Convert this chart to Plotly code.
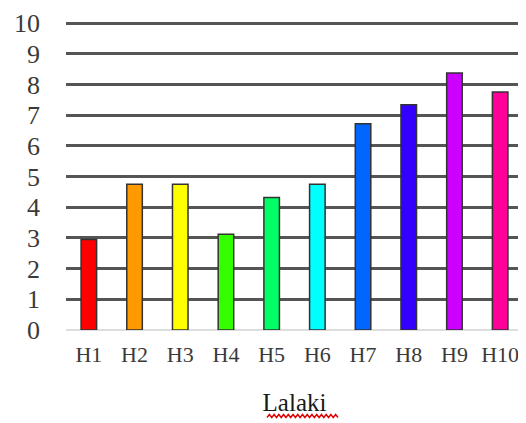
import plotly.graph_objects as go

# Data
categories = ["H1", "H2", "H3", "H4", "H5", "H6", "H7", "H8", "H9", "H10"]
values = [2.95, 4.75, 4.75, 3.12, 4.32, 4.75, 6.72, 7.34, 8.38, 7.76]
colors = ["#FF0000", "#FF9900", "#FFFF00", "#33FF00", "#00FF66",
          "#00FFFF", "#0066FF", "#3300FF", "#CC00FF", "#FF0099"]
y_ticks = [0, 1, 2, 3, 4, 5, 6, 7, 8, 9, 10]

fig = go.Figure([go.Bar(
    x=categories, y=values,
    marker_color=colors,
    marker_line_color="#333333", marker_line_width=1.5,
    width=0.34,
)])

serif = "Liberation Serif"

# red squiggly spell-check underline under the axis title (paper coords)
x0, x1, yb = (267 - 66) / 457, (338 - 66) / 457, (330 - 416) / 308
n = 30
pts = []
for i in range(n + 1):
    px = x0 + (x1 - x0) * i / n
    py = yb + (0.005 if i % 2 else -0.005)
    pts.append(("M" if i == 0 else "L") + f"{px:.4f},{py:.4f}")
fig.add_shape(type="path", path=" ".join(pts), xref="paper", yref="paper",
              line=dict(color="#E00000", width=1.4))

# page body has an 8px margin, so shift margins by 8
fig.update_layout(
    width=526, height=423,
    margin=dict(l=58, r=11, t=14, b=101),
    plot_bgcolor="white", paper_bgcolor="white",
    showlegend=False,
    font=dict(family=serif, color="#333333"),
    xaxis=dict(
        title=dict(text="Lalaki", font=dict(family=serif, size=25, color="#1a1a1a"), standoff=27),
        tickfont=dict(family=serif, size=22, color="#3a3a3a"),
        showgrid=False, showline=False, ticks="", automargin=False,
        ticklabelstandoff=9,
    ),
    yaxis=dict(
        range=[0, 10.04], tickvals=y_ticks,
        tickfont=dict(family=serif, size=26, color="#3a3a3a"),
        showgrid=True, gridcolor="#555555", gridwidth=2.5,
        zeroline=True, zerolinecolor="#DDDDDD", zerolinewidth=2,
        ticks="", ticklabelstandoff=25, automargin=False,
    ),
)

fig.write_html("out.html")
